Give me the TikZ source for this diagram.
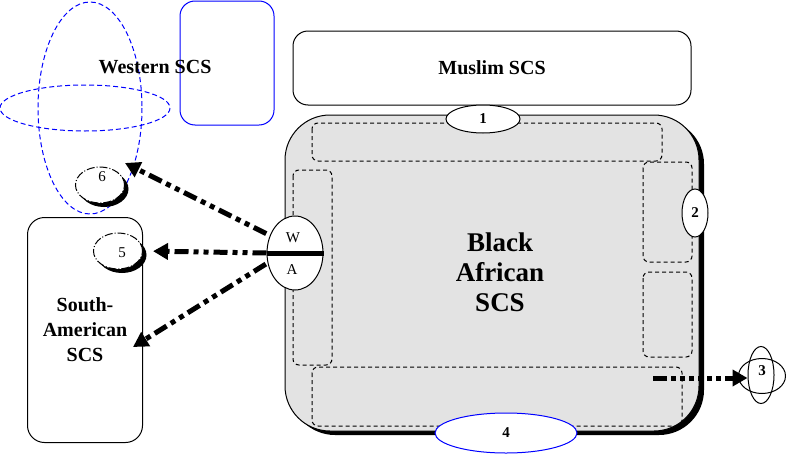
\documentclass[tikz,border=0pt]{standalone}
\usepackage{fontspec}
\setmainfont{Liberation Serif}
\usetikzlibrary{shapes.geometric,shadows,arrows.meta}
\begin{document}
\begin{tikzpicture}[x=1pt,y=-1pt,line width=1pt,
    lbl/.style={font=\fontsize{20}{25}\selectfont\bfseries,align=center},
    num/.style={font=\fontsize{15}{15}\selectfont\bfseries,inner sep=0pt},
    numthin/.style={font=\fontsize{15}{15}\selectfont,inner sep=0pt},
    box/.style={draw,rounded corners=15pt,inner sep=0pt},
    part/.style={draw,dash pattern=on 4pt off 3pt,rounded corners=6pt},
    oval/.style={draw,ellipse,fill=white,inner sep=0pt},
    moon/.style={oval,dash pattern=on 8pt off 2pt on 1pt off 2pt,
      drop shadow={shadow xshift=4pt,shadow yshift=-4pt,fill=black,opacity=1}},
    flow/.style={line width=5pt,dash pattern=on 14pt off 5pt on 5pt off 5pt on 5pt off 5pt,
      -{Triangle[length=15pt,width=16pt]}}]
  \useasboundingbox (0,0) rectangle (786,455);
  % western side
  \draw[blue,dash pattern=on 5pt off 3pt] (90,108) ellipse [x radius=52,y radius=106];
  \draw[blue,dash pattern=on 5pt off 3pt] (85,108) ellipse [x radius=85,y radius=23];
  \draw[blue,rounded corners=15pt] (180,1) rectangle (274,125);
  \node[lbl] (west) at (155,67) {Western SCS};
  \node[box,lbl,minimum width=398pt,minimum height=74pt] (muslim) at (492,68) {Muslim SCS};
  % black african region
  \node[draw,fill=black!11,rounded corners=45pt,minimum width=414pt,minimum height=316pt,
    drop shadow={shadow xshift=5pt,shadow yshift=-4pt,fill=black,opacity=1}] (bafr) at (492,273) {};
  \draw[part] (312,123) rectangle (662,161);
  \draw[part] (293,170) rectangle (332,365);
  \draw[part] (643,162) rectangle (692,262);
  \draw[part] (643,272) rectangle (692,357);
  \draw[part] (312,367) rectangle (682,426);
  \node[lbl,font=\fontsize{27}{30}\selectfont\bfseries] (batext) at (500,272) {Black\\African\\SCS};
  \node[oval,num,minimum width=74pt,minimum height=28pt] (n1) at (483,119) {1};
  \node[oval,num,minimum width=26pt,minimum height=48pt] (n2) at (695,213) {2};
  \node[oval,num,draw=blue,minimum width=142pt,minimum height=40pt] (n4) at (506,433) {4};
  \node[oval,minimum width=56pt,minimum height=74pt] (wa) at (295,253) {};
  \draw[line width=5pt] (wa.west) -- (wa.east);
  \node[numthin] (wlbl) at (293,238) {W};
  \node[numthin] (albl) at (292,270) {A};
  % south american side
  \node[box,lbl,rounded corners=17pt,minimum width=115pt,minimum height=225pt] (sam) at (85,330) {South-\\American\\SCS};
  \node[moon,minimum width=49pt,minimum height=36pt] (n6) at (100,185) {};
  \node[numthin] (l6) at (102,177) {6};
  \node[moon,minimum width=49pt,minimum height=36pt] (n5) at (118,251) {};
  \node[numthin] (l5) at (122,253) {5};
  % node 3
  \node[oval,minimum width=47pt,minimum height=35pt] (n3h) at (762,376) {};
  \node[draw,ellipse,inner sep=0pt,minimum width=26pt,minimum height=57pt] (n3v) at (761,375) {};
  \node[num] (l3) at (762,371) {3};
  % flows
  \coordinate (tip6) at (125,163);
  \coordinate (tipsa) at (133,347);
  \coordinate (src3) at (653,378);
  \draw[flow,shorten <=4pt] (wa.145) -- (tip6);
  \draw[flow,shorten >=10pt] (wa.west) -- (n5.east);
  \draw[flow,shorten <=2pt] (wa.200) -- (tipsa);
  \draw[flow,dash pattern=on 14pt off 4pt on 5pt off 4pt on 5pt off 4pt on 5pt off 4pt on 5pt off 4pt on 5pt off 4pt on 5pt off 4pt]
    (src3) -- (src3 -| n3v.west);
\end{tikzpicture}
\end{document}
